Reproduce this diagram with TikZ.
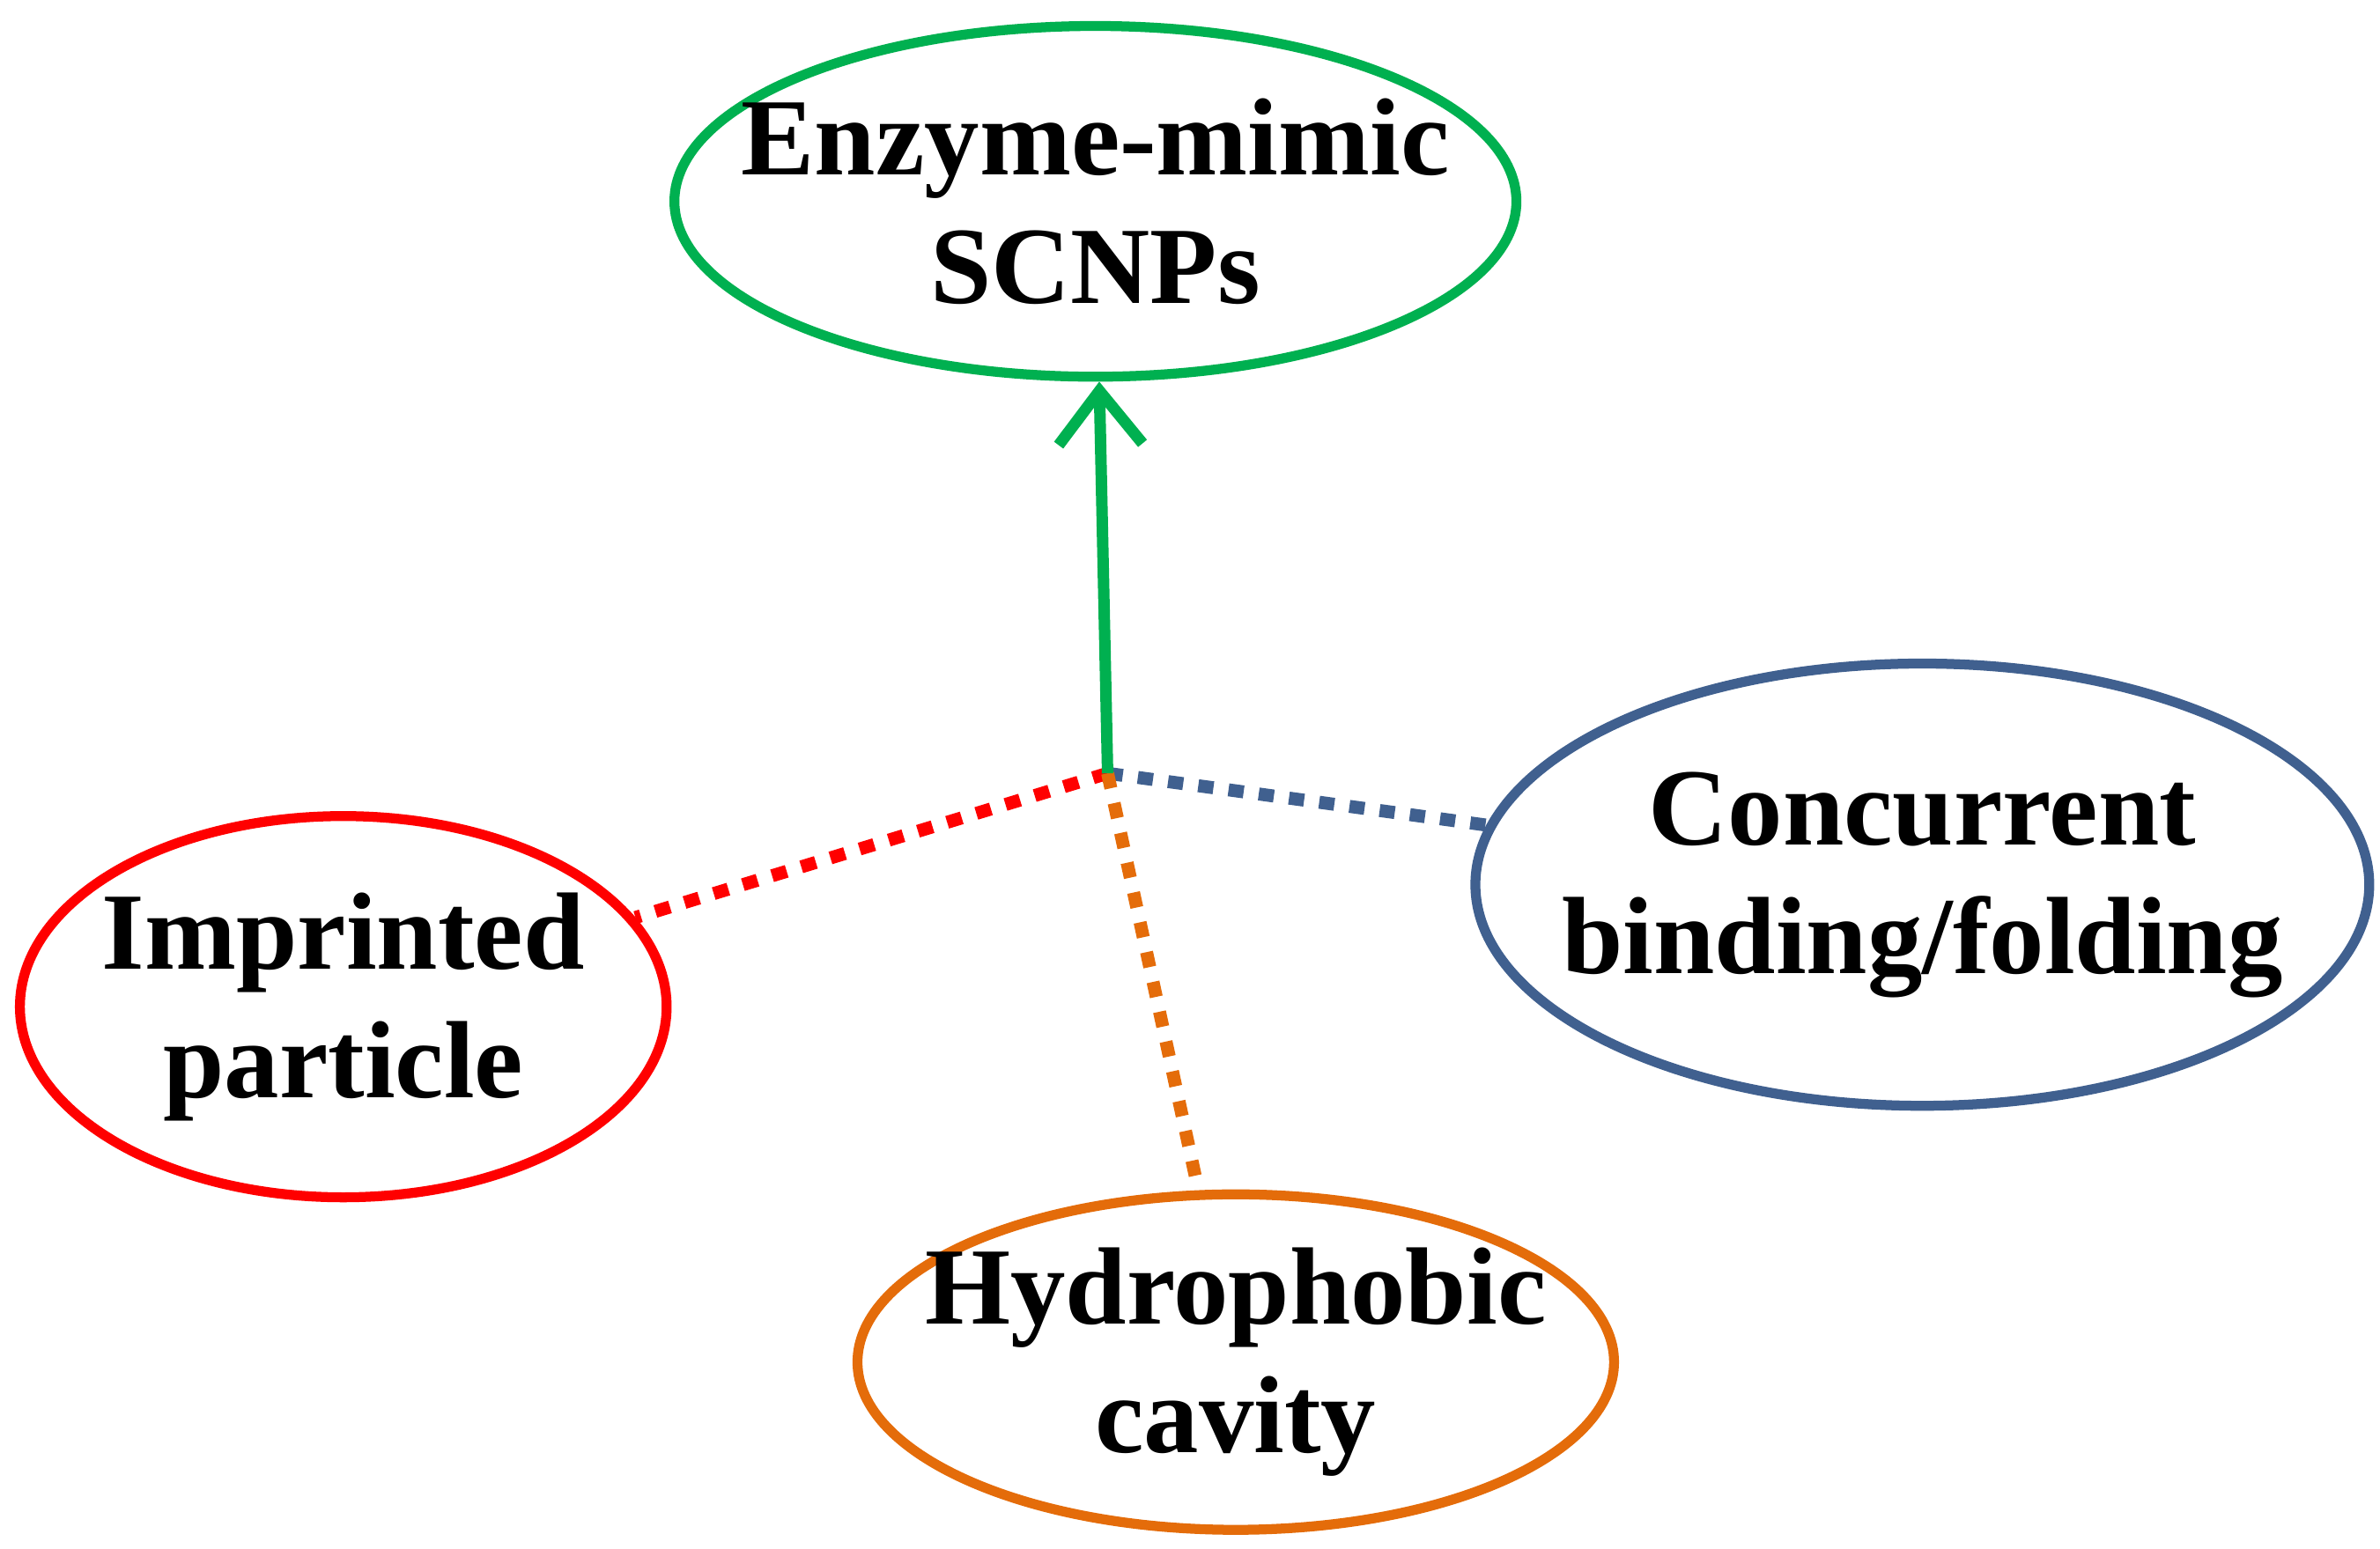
\documentclass[tikz,border=0pt]{standalone}
\usepackage{fontspec}
\setmainfont{Liberation Serif}
\usetikzlibrary{arrows.meta,shapes.geometric}
\definecolor{cgreen}{HTML}{00B050}
\definecolor{cblue}{HTML}{40608F}
\definecolor{cred}{HTML}{FF0000}
\definecolor{corange}{HTML}{E46C0A}
\begin{document}
\begin{tikzpicture}[x=0.02cm,y=-0.02cm,
  ell/.style={ellipse,draw,line width=0.13cm,inner sep=0pt},
  lbl/.style={align=center,inner sep=0pt,font=\fontsize{41}{48}\selectfont\bfseries},
  dot/.style={line width=0.17cm,dash pattern=on 0.2cm off 0.2cm}]
\useasboundingbox (0,0) rectangle (1560,1015);
\node[ell,draw=cgreen,minimum width=11.04cm,minimum height=4.6cm] (g) at (718,132) {};
\node[lbl] (gt) at (g.center) {Enzyme-mimic\\SCNPs};
\node[ell,draw=cblue,minimum width=11.72cm,minimum height=5.8cm] (b) at (1260,580) {};
\node[lbl] (bt) at (b.center) {Concurrent\\binding/folding};
\node[ell,draw=cred,minimum width=8.48cm,minimum height=5cm] (r) at (225,660) {};
\node[lbl] (rt) at (r.center) {Imprinted\\particle};
\node[ell,draw=corange,minimum width=9.92cm,minimum height=4.4cm] (o) at (810,893) {};
\node[lbl] (ot) at (o.center) {Hydrophobic\\cavity};
\coordinate (h) at (726,507);
\draw[dot,cred] (h) -- (r);
\draw[dot,cblue] (h) -- (b);
\draw[dot,corange] (h) -- (o);
\draw[cgreen,line width=0.15cm,-{Straight Barb[length=0.7cm,width=1.1cm,line width=0.15cm]}] (h) -- (g);
\end{tikzpicture}
\end{document}
